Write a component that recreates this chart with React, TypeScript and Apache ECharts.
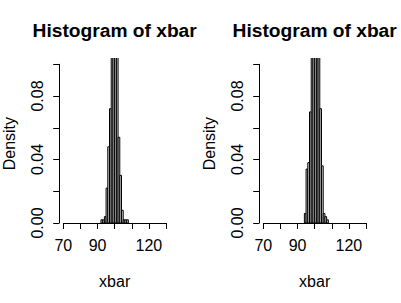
import React, { useEffect, useRef } from 'react';
import * as echarts from 'echarts';

// Histogram data (bin start, density), bin width 1
const binWidth = 1;
const leftBinStarts = [92, 93, 94, 95, 96, 97, 98, 99, 100, 101, 102, 103, 104, 105, 106, 107];
const leftDensity = [0.002, 0.002, 0.004, 0.022, 0.048, 0.072, 0.15, 0.21, 0.22, 0.172, 0.054, 0.03, 0.008, 0.002, 0.002, 0.002];
const rightBinStarts = [94, 95, 96, 97, 98, 99, 100, 101, 102, 103, 104, 105, 106, 107];
const rightDensity = [0.006, 0.034, 0.038, 0.07, 0.12, 0.17, 0.19, 0.15, 0.11, 0.072, 0.036, 0.006, 0.004, 0.002];

const xMin = 70;
const xMax = 130;
const xInterval = 10;
const yMin = 0;
const yMax = 0.1;
const yInterval = 0.02;
const xTickLabelsShown = [70, 90, 120];
const yTickLabelsShown = ['0.00', '0.04', '0.08'];
const titleText = 'Histogram of xbar';
const xAxisName = 'xbar';
const yAxisName = 'Density';

const FONT = 'Liberation Sans, Arial, Helvetica, sans-serif';

export default function App() {
  const ref = useRef<HTMLDivElement>(null);

  useEffect(() => {
    if (!ref.current) return;
    const chart = echarts.init(ref.current, null, { renderer: 'svg' });

    // layout (pixels)
    const panelOffsets = [0, 200];
    const dataLeft = 63.3;
    const dataWidth = 102.7;
    const dataTop = 64.3;
    const dataHeight = 158.7;
    const pxPerX = dataWidth / (xMax - xMin);
    const pxPerY = dataHeight / (yMax - yMin);
    const extX = (xMax - xMin) * 0.04;
    const extY = (yMax - yMin) * 0.04;

    const grids: any[] = [];
    const xAxes: any[] = [];
    const yAxes: any[] = [];
    const series: any[] = [];
    const graphics: any[] = [];

    const datasets = [
      { starts: leftBinStarts, dens: leftDensity },
      { starts: rightBinStarts, dens: rightDensity },
    ];

    panelOffsets.forEach((off, i) => {
      // plotting region grid (hidden axes, with 4% extension like R)
      grids.push({
        left: off + dataLeft - extX * pxPerX,
        top: dataTop - extY * pxPerY,
        width: dataWidth + 2 * extX * pxPerX,
        height: dataHeight + 2 * extY * pxPerY,
        containLabel: false,
      });
      // axis grid
      grids.push({
        left: off + dataLeft,
        top: dataTop,
        width: dataWidth,
        height: dataHeight,
        containLabel: false,
      });
      const gHidden = i * 2;
      const gAxis = i * 2 + 1;
      xAxes.push({
        type: 'value',
        gridIndex: gHidden,
        min: xMin - extX,
        max: xMax + extX,
        show: false,
      });
      yAxes.push({
        type: 'value',
        gridIndex: gHidden,
        min: yMin - extY,
        max: yMax + extY,
        show: false,
      });
      xAxes.push({
        type: 'value',
        gridIndex: gAxis,
        min: xMin,
        max: xMax,
        interval: xInterval,
        position: 'bottom',
        offset: extY * pxPerY,
        axisLine: { show: true, lineStyle: { color: '#000', width: 1 } },
        axisTick: { show: true, length: 6, lineStyle: { color: '#000', width: 1 } },
        splitLine: { show: false },
        axisLabel: {
          show: true,
          color: '#000',
          fontSize: 16,
          fontFamily: FONT,
          margin: 8,
          formatter: (v: number) => (xTickLabelsShown.includes(v) ? String(v) : ''),
        },
        name: xAxisName,
        nameLocation: 'middle',
        nameGap: 44,
        nameTextStyle: { color: '#000', fontSize: 16, fontFamily: FONT },
      });
      yAxes.push({
        type: 'value',
        gridIndex: gAxis,
        min: yMin,
        max: yMax,
        interval: yInterval,
        position: 'left',
        offset: extX * pxPerX,
        axisLine: { show: true, lineStyle: { color: '#000', width: 1 } },
        axisTick: { show: true, length: 6, lineStyle: { color: '#000', width: 1 } },
        splitLine: { show: false },
        axisLabel: {
          show: true,
          color: '#000',
          fontSize: 16,
          fontFamily: FONT,
          rotate: 90,
          margin: 14,
          formatter: (v: number) => {
            const s = v.toFixed(2);
            return yTickLabelsShown.includes(s) ? s : '';
          },
        },
        name: yAxisName,
        nameLocation: 'middle',
        nameGap: 42,
        nameTextStyle: { color: '#000', fontSize: 16, fontFamily: FONT },
      });

      const d = datasets[i];
      series.push({
        type: 'custom',
        xAxisIndex: gHidden,
        yAxisIndex: gHidden,
        clip: true,
        encode: { x: [0, 1], y: 2 },
        data: d.starts.map((s, k) => [s, s + binWidth, d.dens[k]]),
        renderItem: (params: any, api: any) => {
          const s = api.value(0);
          const e = api.value(1);
          const v = api.value(2);
          const p0 = api.coord([s, 0]);
          const p1 = api.coord([e, v]);
          return {
            type: 'rect',
            shape: { x: p0[0], y: p1[1], width: p1[0] - p0[0], height: p0[1] - p1[1] },
            style: { fill: '#d3d3d3', stroke: '#000', lineWidth: 1 },
          };
        },
      });

      graphics.push({
        type: 'text',
        x: off + dataLeft + dataWidth / 2,
        y: 30,
        style: {
          text: titleText,
          fill: '#000',
          font: `bold 19.2px ${FONT}`,
          textAlign: 'center',
          textVerticalAlign: 'middle',
        },
      });
    });

    chart.setOption({
      animation: false,
      backgroundColor: '#fff',
      grid: grids,
      xAxis: xAxes,
      yAxis: yAxes,
      series,
      graphic: graphics,
    });

    return () => chart.dispose();
  }, []);

  return (
    <div
      ref={ref}
      style={{ position: 'fixed', left: 0, top: 0, width: 401, height: 303 }}
    />
  );
}
